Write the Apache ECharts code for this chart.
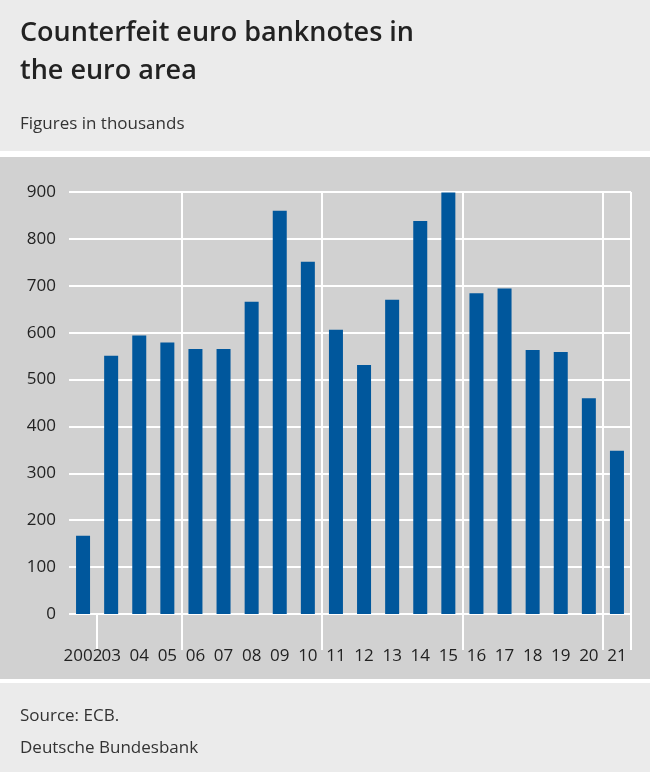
<!DOCTYPE html>
<html><head><meta charset="utf-8">
<script src="https://cdn.jsdelivr.net/npm/echarts@6/dist/echarts.min.js"></script>
<style>body{margin:0;background:#ebebeb}#c{width:650px;height:772px}</style>
</head><body><div id="c"></div>
<script>
var years = ['2002','03','04','05','06','07','08','09','10','11','12','13','14','15','16','17','18','19','20','21'];
var counterfeits = [167,551,594,579,565,565,666,860,751,606,531,670,838,899,684,694,563,559,460,348];
var yTicks = [0,100,200,300,400,500,600,700,800,900];
var tickAt = [1,4,9,14,19];
var splitAt = [4,9,14,19];

var chart = echarts.init(document.getElementById('c'));
var font = '"Open Sans", "Noto Sans", sans-serif';
chart.setOption({
	backgroundColor: '#ebebeb',
	textStyle: {fontFamily: font},
	graphic: [
		{type: 'rect', shape: {x: 0, y: 151, width: 650, height: 532}, style: {fill: '#ffffff'}, z: -10},
		{type: 'rect', shape: {x: 0, y: 157, width: 650, height: 522}, style: {fill: '#d1d1d1'}, z: -9},
		{type: 'text', left: 20, top: 14, style: {text: 'Counterfeit euro banknotes in\nthe euro area', font: '600 27px ' + font, fill: '#222', lineHeight: 38}},
		{type: 'text', left: 20, top: 116, style: {text: 'Figures in thousands', font: '17px ' + font, fill: '#333'}},
		{type: 'text', left: 20, top: 700, style: {text: 'Source: ECB.\nDeutsche Bundesbank', font: '17px ' + font, fill: '#333', lineHeight: 32}}
	],
	grid: {left: 69, right: 19, top: 192, bottom: 158},
	xAxis: {
		type: 'category', data: years,
		axisLine: {show: false},
		axisTick: {show: true, length: 36, lineStyle: {color: '#fff', width: 2},
			interval: function (i) { return tickAt.indexOf(i) >= 0; }},
		splitLine: {show: true, lineStyle: {color: '#fff', width: 2},
			interval: function (i) { return splitAt.indexOf(i) >= 0; }},
		axisLabel: {color: '#222', fontSize: 17, margin: 34, interval: 0}
	},
	yAxis: {
		type: 'value', min: 0, max: 900, interval: 100,
		axisLine: {show: false}, axisTick: {show: false},
		splitLine: {lineStyle: {color: '#fff', width: 2}},
		axisLabel: {color: '#222', fontSize: 17, margin: 13,
			formatter: function (v) { return yTicks.indexOf(v) >= 0 ? v : ''; }}
	},
	series: [{type: 'bar', data: counterfeits, barWidth: 14, itemStyle: {color: '#00579c'}, z: 3}]
});
</script></body></html>
